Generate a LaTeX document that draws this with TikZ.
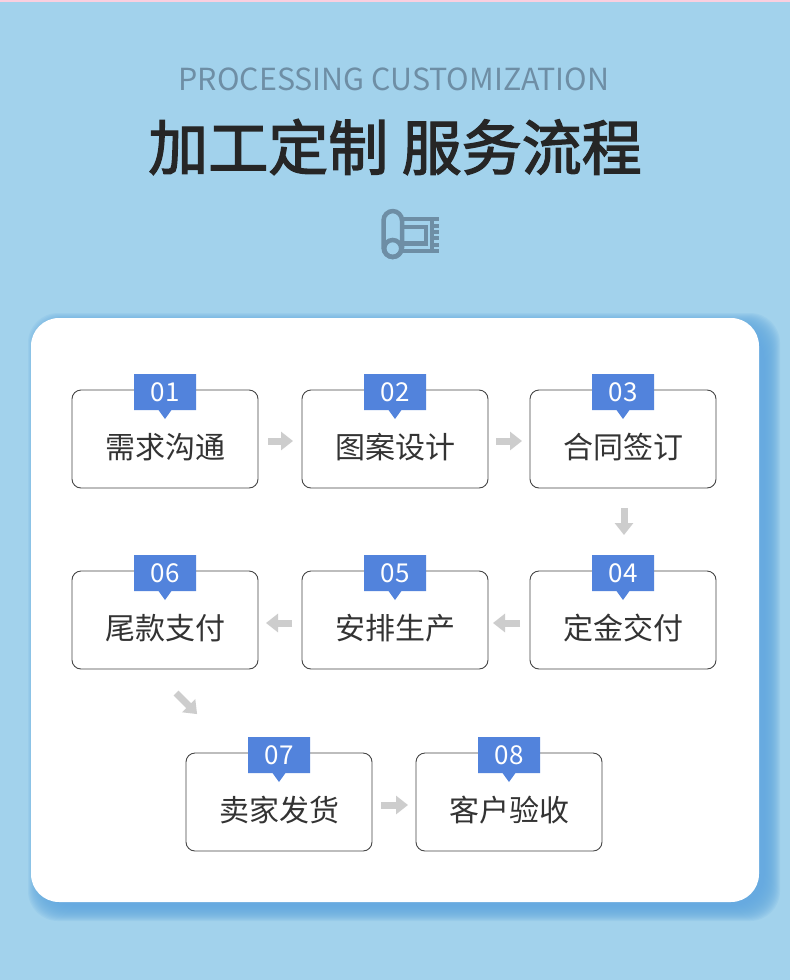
\documentclass[tikz,border=0pt]{standalone}
\usepackage{fontspec}
\setmainfont{Noto Sans CJK SC}
\newfontfamily\titlefont[FakeBold=2.2]{Noto Sans CJK SC}
\usetikzlibrary{arrows.meta, positioning, shapes.callouts}
\definecolor{skyblue}{RGB}{162, 210, 236}
\definecolor{shadowblue}{RGB}{100, 170, 224}
\definecolor{stripepink}{RGB}{251, 207, 223}
\definecolor{tagblue}{RGB}{82, 131, 220}
\definecolor{icongrey}{RGB}{110, 142, 165}
\definecolor{arrowgrey}{RGB}{205, 205, 205}
\definecolor{boxline}{RGB}{70, 70, 70}
\definecolor{textdark}{RGB}{51, 51, 51}

\begin{document}
\begin{tikzpicture}[x=1pt, y=-1pt,
    stepbox/.style={rectangle, draw=boxline, fill=white, line width=0.9pt, rounded corners=9pt, minimum width=186pt, minimum height=98pt, outer sep=0pt, inner sep=0pt, align=center, text=textdark, font=\fontsize{30}{32}\selectfont, text height=38pt, text depth=0pt},
    tag/.style={rectangle callout, fill=tagblue, minimum width=62pt, minimum height=36pt, inner sep=0pt, outer sep=0pt, callout relative pointer={(0,9)}, callout pointer width=13pt, text=white, font=\fontsize{26}{28}\selectfont},
    arrow/.style={-{Triangle[length=12pt, width=18pt]}, line width=7pt, arrowgrey}
]
\useasboundingbox (0,0) rectangle (790,980);

% Background
\fill[skyblue] (0,0) rectangle (790,980);
\fill[stripepink] (0,0) rectangle (790,2);

% Heading
\node (SUB) at (394,79) [text=icongrey, font=\fontsize{30.4}{32}\selectfont] {PROCESSING CUSTOMIZATION};
\node (TITLE) at (395,147) [text=black!85, font=\fontsize{60}{64}\titlefont] {加工定制 服务流程};

% Roll icon
\draw[icongrey, line width=4.5pt, rounded corners=9.5pt] (383.5,211) rectangle (402,257);
\draw[icongrey, line width=4.5pt] (392.7,248.5) circle (8.5);
\draw[icongrey, line width=4.5pt] (402,219) -- (432,219) -- (432,251) -- (402,251);
\draw[icongrey, line width=4.5pt] (402,227) -- (426,227) -- (426,243.5) -- (402,243.5);
\foreach \ty in {219,226,232,238,245,251}
    \draw[icongrey, line width=3.5pt] (432,\ty) -- (438.5,\ty);

% Card with shadow
\foreach \g in {12,11,...,-4}
    \fill[shadowblue, opacity=0.13, rounded corners=30pt] (40-\g,325-\g) rectangle (768+\g,909+\g);
\node (CARD) at (395,610) [rectangle, fill=white, rounded corners=28pt, minimum width=728pt, minimum height=584pt, outer sep=0pt] {};

% Row one
\node (NEED) at (165,439) [stepbox] {需求沟通};
\node (DESIGN) [stepbox, right=44pt of NEED] {图案设计};
\node (CONTRACT) [stepbox, right=42pt of DESIGN] {合同签订};

% Row two
\node (DEPOSIT) [stepbox, below=83pt of CONTRACT] {定金交付};
\node (ARRANGE) [stepbox, left=42pt of DEPOSIT] {安排生产};
\node (BALANCE) [stepbox, left=44pt of ARRANGE] {尾款支付};

% Row three
\node (SHIP) at (279,802) [stepbox] {卖家发货};
\node (CHECK) [stepbox, right=44pt of SHIP] {客户验收};

% Number tags
\node (TAGA) [tag, above=-20pt of NEED] {01};
\node (TAGB) [tag, above=-20pt of DESIGN] {02};
\node (TAGC) [tag, above=-20pt of CONTRACT] {03};
\node (TAGD) [tag, above=-20pt of DEPOSIT] {04};
\node (TAGE) [tag, above=-20pt of ARRANGE] {05};
\node (TAGF) [tag, above=-20pt of BALANCE] {06};
\node (TAGG) [tag, above=-20pt of SHIP] {07};
\node (TAGH) [tag, above=-20pt of CHECK] {08};

% Arrows
\draw[arrow, shorten <=10pt, shorten >=9pt] ([yshift=-2pt]NEED.east) -- ([yshift=-2pt]DESIGN.west);
\draw[arrow, shorten <=8pt, shorten >=8pt] ([yshift=-2pt]DESIGN.east) -- ([yshift=-2pt]CONTRACT.west);
\draw[arrow, shorten <=20pt, shorten >=20pt] ([xshift=1pt]CONTRACT.south) -- ([xshift=1pt]TAGD.north);
\draw[arrow, shorten <=10pt, shorten >=5pt] ([yshift=-3pt]DEPOSIT.west) -- ([yshift=-3pt]ARRANGE.east);
\draw[arrow, shorten <=10pt, shorten >=8pt] ([yshift=-3pt]ARRANGE.west) -- ([yshift=-3pt]BALANCE.east);
\draw[arrow, shorten <=34pt, shorten >=55pt] ([xshift=-13pt]BALANCE.south) -- ([xshift=-43pt]SHIP.north);
\draw[arrow, shorten <=9pt, shorten >=8pt] ([yshift=-3pt]SHIP.east) -- ([yshift=-3pt]CHECK.west);

\end{tikzpicture}
\end{document}
